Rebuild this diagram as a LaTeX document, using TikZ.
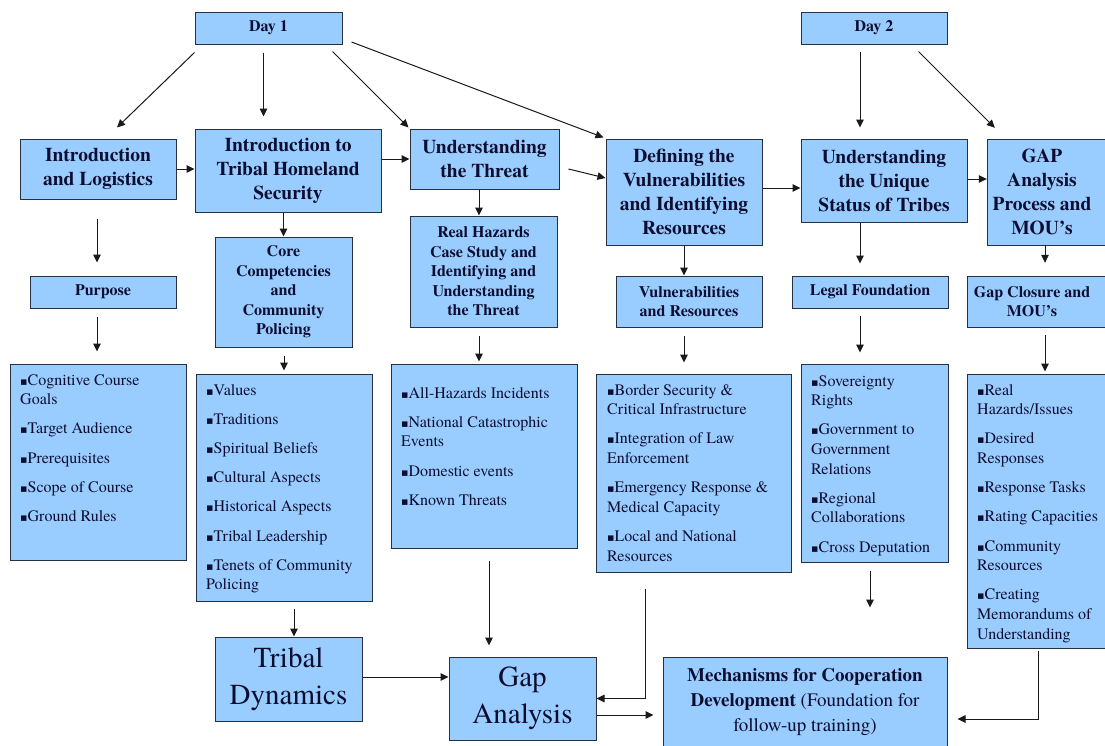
\documentclass[tikz,border=0pt]{standalone}
\usepackage{fontspec}
\setmainfont{TeX Gyre Termes}
\newfontfamily\symfont{DejaVu Sans}
\usetikzlibrary{arrows.meta,calc}
\definecolor{boxfill}{HTML}{99CCFF}
\definecolor{boxline}{HTML}{263040}
\definecolor{txt}{HTML}{0D0D30}
\definecolor{arrcol}{HTML}{1A1A1A}
\newcommand{\lbul}{{\symfont\fontsize{11}{11}\selectfont ▪}}
\tikzset{
  box/.style={draw=boxline, fill=boxfill, line width=1pt, inner sep=0pt, align=center, text=txt},
  ttl/.style={box, font=\fontsize{19.5}{24}\selectfont\bfseries},
  ttlt/.style={inner sep=0pt, align=center, text=txt, font=\fontsize{19.5}{24}\selectfont\bfseries},
  sub/.style={box, font=\fontsize{16}{19.5}\selectfont\bfseries},
  subt/.style={inner sep=0pt, align=center, text=txt, font=\fontsize{16}{19.5}\selectfont\bfseries},
  big/.style={box, font=\fontsize{29}{37}\selectfont},
  mechbox/.style={box, font=\fontsize{19}{25}\selectfont},
  listbox/.style={draw=boxline, fill=boxfill, line width=1pt, inner sep=0pt},
  bgrect/.style={draw=boxline, fill=boxfill, line width=1pt},
  listtext/.style={anchor=north west, inner sep=0pt, align=left, text=txt, font=\fontsize{16}{19.6}\selectfont},
  arr/.style={draw=arrcol, line width=1pt, -{Triangle[length=8pt,width=7.5pt]}},
}
\begin{document}
\begin{tikzpicture}[x=1pt, y=-1pt]
\useasboundingbox (0,0) rectangle (1105,745);
\fill[white] (0,0) rectangle (1105,745);
\clip (0,0) rectangle (1105,745);

% top row
\node[sub, minimum width=147pt, minimum height=32pt] (day1) at (268.5,28) {Day 1};
\node[sub, minimum width=146pt, minimum height=32pt] (day2) at (874,28) {Day 2};
\node[ttl, minimum width=156pt, minimum height=60pt] (intro) at (98,169) {Introduction\\and Logistics};
\node[ttl, minimum width=186pt, minimum height=83pt] (ths) at (288,170.5) {Introduction to\\Tribal Homeland\\Security};
\node[ttl, minimum width=149pt, minimum height=60pt] (threat) at (484.5,159) {Understanding\\the Threat};
\node[ttl, minimum width=156pt, minimum height=106pt] (defining) at (684,192) {Defining the\\Vulnerabilities\\and Identifying\\Resources};
\node[ttl, minimum width=166pt, minimum height=83pt] (unique) at (884,180.5) {Understanding\\the Unique\\Status of Tribes};
\path[bgrect] (987,139) rectangle (1114,245);
\node[ttlt, minimum width=110pt, minimum height=106pt] (gap) at (1042,192) {GAP\\Analysis\\Process and\\MOU’s};

% second row
\node[sub, minimum width=146pt, minimum height=32pt] (purpose) at (103,292) {Purpose};
\node[sub, minimum width=137pt, minimum height=110pt] (core) at (283.5,292) {Core\\Competencies\\and\\Community\\Policing};
\node[sub, minimum width=147pt, minimum height=111pt] (real) at (483.5,271.5) {Real Hazards\\Case Study and\\Identifying and\\Understanding\\the Threat};
\node[sub, minimum width=146pt, minimum height=51pt] (vr) at (689,301.5) {Vulnerabilities\\and Resources};
\node[sub, minimum width=156pt, minimum height=32pt] (legal) at (870,292) {Legal Foundation};
\path[bgrect] (967,276) rectangle (1114,327);
\node[subt, minimum width=130pt, minimum height=51pt] (closure) at (1032,301.5) {Gap Closure and\\MOU’s};

% list boxes
\node[listbox, minimum width=176pt, minimum height=196pt] (purposeL) at (98,462) {};
\node[listtext] (purposeT) at (20,374) {\lbul Cognitive Course\\Goals\\[9.6pt]\lbul Target Audience\\[9.6pt]\lbul Prerequisites\\[9.6pt]\lbul Scope of Course\\[9.6pt]\lbul Ground Rules};

\node[listbox, minimum width=176pt, minimum height=227pt] (coreL) at (284,487.5) {};
\node[listtext] (coreT) at (206,384) {\lbul Values\\[9.6pt]\lbul Traditions\\[9.6pt]\lbul Spiritual Beliefs\\[9.6pt]\lbul Cultural Aspects\\[9.6pt]\lbul Historical Aspects\\[9.6pt]\lbul Tribal Leadership\\[9.6pt]\lbul Tenets of Community\\Policing};

\node[listbox, minimum width=186pt, minimum height=184pt] (threatL) at (484,456) {};
\node[listtext] (threatT) at (401,387) {\lbul All-Hazards Incidents\\[9.6pt]\lbul National Catastrophic\\Events\\[9.6pt]\lbul Domestic events\\[9.6pt]\lbul Known Threats};

\node[listbox, minimum width=195pt, minimum height=198pt] (vulnL) at (693.5,473) {};
\node[listtext] (vulnT) at (607,384) {\lbul Border Security \&\\Critical Infrastructure\\[9.6pt]\lbul Integration of Law\\Enforcement\\[9.6pt]\lbul Emergency Response \&\\Medical Capacity\\[9.6pt]\lbul Local and National\\Resources};

\node[listbox, minimum width=147pt, minimum height=198pt] (legalL) at (874.5,463) {};
\node[listtext] (legalT) at (811,375) {\lbul Sovereignty\\Rights\\[9.6pt]\lbul Government to\\Government\\Relations\\[9.6pt]\lbul Regional\\Collaborations\\[9.6pt]\lbul Cross Deputation};

\node[listbox, minimum width=147pt, minimum height=274pt] (closureL) at (1040.5,511) {};
\node[listtext] (closureT) at (977,384) {\lbul Real\\Hazards/Issues\\[9.6pt]\lbul Desired\\Responses\\[9.6pt]\lbul Response Tasks\\[9.6pt]\lbul Rating Capacities\\[9.6pt]\lbul Community\\Resources\\[9.6pt]\lbul Creating\\Memorandums of\\Understanding};

% bottom row
\node[big, minimum width=147pt, minimum height=84pt] (tribal) at (288.5,679) {Tribal\\Dynamics};
\node[big, minimum width=147pt, minimum height=83pt] (gapA) at (522.5,698.5) {Gap\\Analysis};
\node[mechbox, minimum width=284pt, minimum height=89pt] (mech) at (805,701.5) {\textbf{Mechanisms for Cooperation}\\\textbf{Development} (Foundation for\\follow-up training)};

\coordinate (legalEnd) at ($(legalL.south)+(-4.5,45)$);

% connectors: top
\draw[arr] ($(day1.south west)+(0,8)$) -- ($(intro.north)+(19,-11)$);
\draw[arr] ($(day1.south west)+(69,8)$) -- ($(ths.north west)+(69,-12)$);
\draw[arr] ($(day1.south east)+(-10,7)$) -- ($(threat.north west)+(-1,-1)$);
\draw[arr] ($(day1.east)+(9,14)$) -- ($(defining.north west)+(-2,-1)$);
\draw[arr] ($(day2.south)+(-14,7)$) -- ($(unique.north)+(-24,-11)$);
\draw[arr] ($(day2.south east)+(-29,7)$) -- ($(gap.north west)+(8,-11)$);
% connectors: row 1 horizontal
\draw[arr] (intro.east) -- (ths.west |- intro.east);
\draw[arr] (threat.west -| ths.east) -- (threat.west);
\draw[arr] ($(threat.east)+(9,10)$) -- ($(defining.west)+(0,-14)$);
\draw[arr] ($(defining.east)+(0,-4)$) -- ($(unique.west)+(0,7.5)$);
\draw[arr] ($(unique.east)+(0,-1.5)$) -- ($(gap.west)+(0,-13)$);
% connectors: down
\draw[arr] ($(intro.south)+(-1,19)$) -- ($(purpose.north)+(-6,-13)$);
\draw[arr] (core.north |- ths.south) -- (core.north);
\draw[arr] ($(threat.south)+(-5.5,0)$) -- ($(real.north)+(-4.5,0)$);
\draw[arr] (defining.south) -- (defining.south |- vr.north);
\draw[arr] ($(unique.south)+(-24,0)$) -- ($(legal.north)+(-10,-12)$);
\draw[arr] ($(gap.south)+(3,0)$) -- ($(closure.north)+(13,-13)$);
\draw[arr] ($(purpose.south)+(-6,8)$) -- ($(purposeL.north)+(-1,-12)$);
\draw[arr] ($(core.south)+(0.5,8)$) -- ($(coreL.north)+(0,-3)$);
\draw[arr] ($(real.south)+(-4.5,8)$) -- ($(threatL.north)+(-5,-2)$);
\draw[arr] ($(vr.south)+(-5,8)$) -- ($(vulnL.north)+(-9.5,-11)$);
\draw[arr] ($(legal.south)+(-10,7)$) -- ($(legalL.north)+(-14.5,-11)$);
\draw[arr] ($(closure.south)+(13,8)$) -- ($(closureL.north)+(4.5,-2)$);
% connectors: bottom
\draw[arr] ($(coreL.south)+(10,7)$) -- ($(tribal.north)+(5.5,0)$);
\draw[arr] ($(tribal.east)+(0,-2)$) -- ($(gapA.west)+(0,-21.5)$);
\draw[arr] ($(threatL.south)+(5,12)$) -- ($(gapA.north)+(-33.5,-11)$);
\draw[arr] ($(vulnL.south)+(-48.5,16)$) |- (gapA.east);
\draw[arr] ($(gapA.east)+(0,16.5)$) -- ($(mech.west)+(-9,13.5)$);
\draw[arr] ($(legalL.south)+(-4.5,8)$) -- (legalEnd);
\draw[arr] ($(closureL.south)+(-2.5,2)$) |- ($(mech.east)+(10,17.5)$);
\end{tikzpicture}
\end{document}
